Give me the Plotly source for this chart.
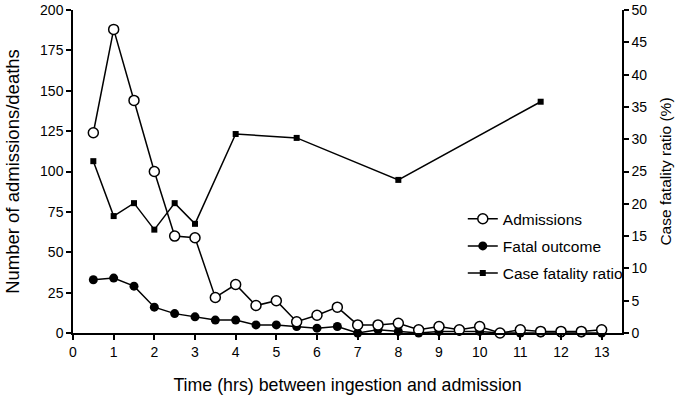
import plotly.graph_objects as go

time_hrs = [0.5, 1, 1.5, 2, 2.5, 3, 3.5, 4, 4.5, 5, 5.5, 6, 6.5, 7, 7.5, 8, 8.5, 9, 9.5, 10,
            10.5, 11, 11.5, 12, 12.5, 13]
admissions = [124, 188, 144, 100, 60, 59, 22, 30, 17, 20, 7, 11, 16, 5, 5, 6, 2, 4, 2, 4,
              0, 2, 1, 1, 1, 2]
fatal = [33, 34, 29, 16, 12, 10, 8, 8, 5, 5, 4, 3, 4, 0, 2, 1, 0, 1, 1, 1,
         0, 0, 0, 0, 0, 0]
cfr_time = [0.5, 1, 1.5, 2, 2.5, 3, 4, 5.5, 8, 11.5]
cfr = [26.6, 18.1, 20.1, 16.0, 20.1, 16.9, 30.8, 30.2, 23.7, 35.8]

x_ticks = list(range(0, 14))
y_ticks = list(range(0, 201, 25))
y2_ticks = list(range(0, 51, 5))

FONT = "Liberation Sans, Arial, sans-serif"

fig = go.Figure()
fig.add_trace(go.Scatter(
    x=cfr_time, y=cfr, name="Case fatality ratio", yaxis="y2", mode="lines+markers",
    line=dict(color="black", width=1.5),
    marker=dict(symbol="square", size=6, color="black"),
    legendrank=3, legendgroup="c", cliponaxis=False))
fig.add_trace(go.Scatter(
    x=time_hrs, y=fatal, name="Fatal outcome", mode="lines+markers",
    line=dict(color="black", width=1.5),
    marker=dict(symbol="circle", size=9, color="black"),
    legendrank=2, legendgroup="b", cliponaxis=False))
fig.add_trace(go.Scatter(
    x=time_hrs, y=admissions, name="Admissions", mode="lines+markers",
    line=dict(color="black", width=1.5),
    marker=dict(symbol="circle", size=10, color="white", line=dict(color="black", width=1.5)),
    legendrank=1, legendgroup="a", cliponaxis=False))

axis_common = dict(showline=True, linecolor="black", linewidth=1.5, ticks="outside",
                   ticklen=5, tickwidth=1.5, tickcolor="black", showgrid=False,
                   zeroline=False, tickfont=dict(family=FONT, size=14, color="black"))

fig.update_layout(
    width=686, height=402,
    margin=dict(l=73, r=64, t=10, b=69),
    paper_bgcolor="white", plot_bgcolor="white",
    font=dict(family=FONT, color="black"),
    xaxis=dict(range=[0, 13.5], tickvals=x_ticks, automargin=False,
               title=dict(text="Time (hrs) between ingestion and admission",
                          font=dict(family=FONT, size=17.8), standoff=20),
               **axis_common),
    yaxis=dict(range=[0, 200], tickvals=y_ticks, automargin=False,
               title=dict(text="Number of admissions/deaths",
                          font=dict(family=FONT, size=18.5), standoff=16),
               **axis_common),
    yaxis2=dict(range=[0, 50], tickvals=y2_ticks, overlaying="y", side="right",
                automargin=False,
                title=dict(text="Case fatality ratio (%)",
                           font=dict(family=FONT, size=15.5), standoff=14),
                **axis_common),
    legend=dict(x=0.71, y=0.405, xanchor="left", yanchor="top",
                bgcolor="rgba(0,0,0,0)", font=dict(family=FONT, size=15.5),
                traceorder="grouped", tracegroupgap=4, itemwidth=30),
    showlegend=True,
)

fig.write_html("out.html", config={"displayModeBar": False},
               post_script="document.body.style.margin='0';")
